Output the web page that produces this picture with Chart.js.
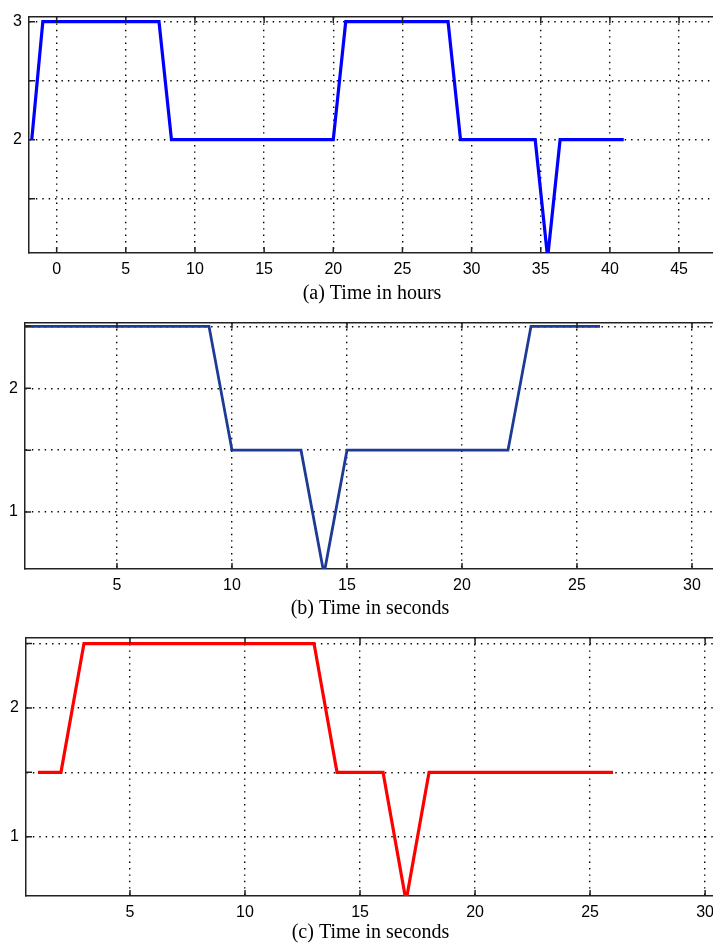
<!DOCTYPE html>
<html>
<head>
<meta charset="utf-8">
<script src="https://cdn.jsdelivr.net/npm/chart.js@4.4.0/dist/chart.umd.min.js"></script>
<style>
  html, body { margin: 0; padding: 0; background: #fff; overflow: hidden; }
  body { width: 713px; height: 945px; position: relative; }
  canvas { position: absolute; left: 0; }
</style>
</head>
<body>
<canvas id="chartA" width="730" height="306" style="top:0px"></canvas>
<canvas id="chartB" width="730" height="315" style="top:306px"></canvas>
<canvas id="chartC" width="730" height="324" style="top:621px"></canvas>
<script>
// (a) time in hours
const hoursX = [-1.8, -1, 7.4, 8.3, 20, 20.9, 28.3, 29.2, 34.6, 35.5, 36.4, 41];
const hoursY = [2, 3, 3, 2, 2, 3, 3, 2, 2, 1, 2, 2];
// (b) time in seconds
const secBX = [1, 9, 10, 13, 14, 15, 22, 23, 26];
const secBY = [2.5, 2.5, 1.5, 1.5, 0.5, 1.5, 1.5, 2.5, 2.5];
// (c) time in seconds
const secCX = [1, 2, 3, 13, 14, 16, 17, 18, 26];
const secCY = [1.5, 1.5, 2.5, 2.5, 1.5, 1.5, 0.5, 1.5, 1.5];

const hourTicks = [0, 5, 10, 15, 20, 25, 30, 35, 40, 45];
const secTicks = [5, 10, 15, 20, 25, 30];
const yTicksA = [1.5, 2, 2.5, 3];
const yTicksBC = [1, 1.5, 2, 2.5];

// matlab style ticks pointing inwards
const innerTicks = {
  id: 'innerTicks',
  afterDatasetsDraw(chart) {
    const ctx = chart.ctx, a = chart.chartArea;
    const x = chart.scales.x, y = chart.scales.y;
    ctx.save();
    ctx.strokeStyle = '#222';
    ctx.lineWidth = 1.5;
    ctx.beginPath();
    x.ticks.forEach(t => {
      const px = x.getPixelForValue(t.value);
      ctx.moveTo(px, a.bottom); ctx.lineTo(px, a.bottom - 6);
      ctx.moveTo(px, a.top); ctx.lineTo(px, a.top + 6);
    });
    y.ticks.forEach(t => {
      const py = y.getPixelForValue(t.value);
      ctx.moveTo(a.left, py); ctx.lineTo(a.left + 6, py);
    });
    ctx.stroke();
    ctx.restore();
  }
};

function makeChart(id, opt) {
  const grid = { color: '#000', lineWidth: 1.4, drawTicks: false };
  const border = { color: '#222', width: 1.5, dash: [1.4, 5] };
  return new Chart(document.getElementById(id), {
    type: 'scatter',
    data: {
      datasets: [{
        data: opt.xs.map((v, i) => ({ x: v, y: opt.ys[i] })),
        showLine: true,
        borderColor: opt.color,
        borderWidth: opt.width,
        pointRadius: 0,
        tension: 0
      }]
    },
    options: {
      responsive: false,
      animation: false,
      devicePixelRatio: 1,
      layout: { padding: { top: opt.top, right: 15, left: 0, bottom: 0 } },
      plugins: { legend: { display: false }, tooltip: { enabled: false } },
      scales: {
        x: {
          type: 'linear',
          min: opt.xMin, max: opt.xMax,
          afterBuildTicks: s => { s.ticks = opt.xTicks.map(v => ({ value: v })); },
          afterFit: s => { s.height = opt.xHeight; },
          grid: grid,
          border: border,
          ticks: { color: '#000', padding: 7, maxRotation: 0, font: { family: 'Liberation Sans', size: 16 } },
          title: {
            display: true,
            text: opt.title,
            color: '#000',
            padding: 0,
            font: { family: 'Liberation Serif', size: 20 }
          }
        },
        x2: {
          type: 'linear', position: 'top',
          min: opt.xMin, max: opt.xMax,
          grid: { display: false },
          border: { color: '#222', width: 1.5 },
          ticks: { display: false },
          afterFit: s => { s.height = 0; }
        },
        y: {
          min: opt.yMin, max: opt.yMax,
          afterBuildTicks: s => { s.ticks = opt.yTicks.map(v => ({ value: v })); },
          afterFit: s => { s.width = opt.yWidth; },
          grid: grid,
          border: border,
          ticks: {
            color: '#000', padding: 7,
            font: { family: 'Liberation Sans', size: 16 },
            callback: v => Number.isInteger(v) ? String(v) : ''
          }
        }
      }
    },
    plugins: [innerTicks]
  });
}

makeChart('chartA', {
  xs: hoursX, ys: hoursY, color: '#0000ff', width: 3.2,
  title: '(a) Time in hours',
  xMin: -2, xMax: 47.6, yMin: 1.04, yMax: 3.04,
  xTicks: hourTicks, yTicks: yTicksA,
  top: 17, xHeight: 53, yWidth: 29
});

makeChart('chartB', {
  xs: secBX, ys: secBY, color: '#1c3a96', width: 2.8,
  title: '(b) Time in seconds',
  xMin: 1, xMax: 31, yMin: 0.54, yMax: 2.53,
  xTicks: secTicks, yTicks: yTicksBC,
  top: 4, xHeight: 52, yWidth: 25
});

makeChart('chartC', {
  xs: secCX, ys: secCY, color: '#ff0000', width: 3.2,
  title: '(c) Time in seconds',
  xMin: 0.48, xMax: 30.43, yMin: 0.54, yMax: 2.546,
  xTicks: secTicks, yTicks: yTicksBC,
  top: 14, xHeight: 49, yWidth: 26
});
</script>
</body>
</html>
